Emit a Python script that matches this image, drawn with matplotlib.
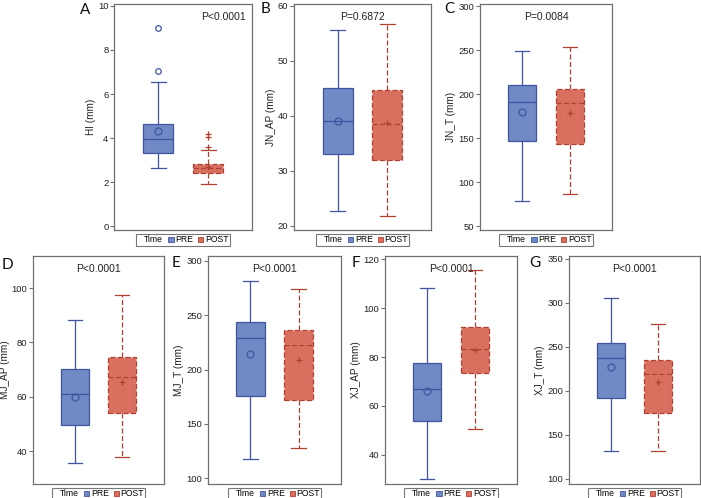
import matplotlib
matplotlib.use('Agg')
import matplotlib.pyplot as plt
from matplotlib.patches import Patch
from matplotlib.lines import Line2D

plt.rcParams['font.family'] = ['Liberation Sans', 'DejaVu Sans']

# ---- data ----
panel_letters = ['A', 'B', 'C', 'D', 'E', 'F', 'G']
y_labels = ['HI (mm)', 'JN_AP (mm)', 'JN_T (mm)', 'MJ_AP (mm)',
            'MJ_T (mm)', 'XJ_AP (mm)', 'XJ_T (mm)']
p_texts = ['P<0.0001', 'P=0.6872', 'P=0.0084', 'P<0.0001',
           'P<0.0001', 'P<0.0001', 'P<0.0001']
groups = ['PRE', 'POST']

# whisker low, Q1, median, Q3, whisker high
pre_box = [[2.62, 3.33, 3.94, 4.65, 6.55],
           [22.8, 33.0, 39.0, 45.05, 55.7],
           [78.0, 147.0, 190.5, 209.9, 249.0],
           [35.5, 49.5, 61.0, 70.3, 88.3],
           [117.5, 176.0, 229.4, 243.9, 281.5],
           [30.2, 53.9, 66.8, 77.5, 108.1],
           [132.0, 192.0, 237.0, 254.0, 305.5]]
pre_mean = [4.33, 39.1, 180.0, 60.0, 214.4, 66.1, 227.5]
pre_outliers = [[7.03, 8.98], [], [], [], [], [], []]

post_box = [[1.89, 2.39, 2.65, 2.83, 3.44],
            [21.8, 32.0, 38.6, 44.8, 56.8],
            [86.6, 143.5, 190.1, 205.3, 253.8],
            [38.0, 54.0, 67.3, 74.5, 97.3],
            [127.3, 172.0, 222.4, 236.2, 274.5],
            [50.5, 73.5, 83.4, 92.2, 115.4],
            [131.5, 175.5, 219.0, 235.0, 276.0]]
post_mean = [2.67, 38.8, 178.0, 65.3, 209.2, 83.0, 210.0]
post_outliers = [[3.59, 4.03, 4.18], [], [], [], [], [], []]

y_ticks = [[0, 2, 4, 6, 8, 10],
           [20, 30, 40, 50, 60],
           [50, 100, 150, 200, 250, 300],
           [40, 60, 80, 100],
           [100, 150, 200, 250, 300],
           [40, 60, 80, 100, 120],
           [100, 150, 200, 250, 300, 350]]
y_limits = [(-0.18, 10.09), (19.27, 60.36), (45.5, 302.3), (27.9, 111.8),
            (94.5, 304.6), (28.1, 121.3), (94.3, 353.4)]

# ---- layout in pixels: left, top, right, bottom ----
W, H = 701, 498
axes_px = [(114, 4, 252, 230), (294, 4, 431, 230), (480, 4, 612, 230),
           (33, 256, 164, 484), (208, 256, 341, 484), (385, 256, 517, 484),
           (569, 256, 700, 484)]
letter_px = [(80, 10), (261, 9), (444, 9), (2, 265), (172, 263),
             (352, 263), (529, 263)]

pre_fill, pre_edge = '#7189c4', '#3f55a0'
post_fill, post_edge = '#d9705f', '#b0402f'
frame_col = '#707070'


def px_rect(l, t, r, b):
    return [l / W, 1 - b / H, (r - l) / W, (b - t) / H]


def draw_box(ax, pos, box, mean, out, fill, edge, dashed, mean_marker, flier_marker):
    ls = (0, (4, 2)) if dashed else '-'
    stats = [dict(whislo=box[0], q1=box[1], med=box[2], q3=box[3],
                  whishi=box[4], mean=mean, fliers=out)]
    ax.bxp(stats, positions=[pos], widths=0.6, capwidths=0.3,
           patch_artist=True, showmeans=True,
           boxprops=dict(facecolor=fill, edgecolor=edge, linewidth=0.9, linestyle=ls),
           whiskerprops=dict(color=edge, linewidth=0.9, linestyle=ls),
           capprops=dict(color=edge, linewidth=0.9),
           medianprops=dict(color=edge, linewidth=0.9, linestyle=ls),
           meanprops=dict(marker=mean_marker, markerfacecolor='none',
                          markeredgecolor=edge, markersize=5, markeredgewidth=0.9),
           flierprops=dict(marker=flier_marker, markerfacecolor='none',
                           markeredgecolor=edge, markersize=4, markeredgewidth=0.9))


fig = plt.figure(figsize=(W / 100, H / 100), dpi=100)

for i in range(len(panel_letters)):
    l, t, r, b = axes_px[i]
    ax = fig.add_axes(px_rect(l, t, r, b))
    draw_box(ax, 1, pre_box[i], pre_mean[i], pre_outliers[i],
             pre_fill, pre_edge, False, 'o', 'o')
    draw_box(ax, 2, post_box[i], post_mean[i], post_outliers[i],
             post_fill, post_edge, True, '+', '+')

    ax.set_xlim(0.12, 2.88)
    ax.set_ylim(*y_limits[i])
    ax.set_yticks(y_ticks[i])
    ax.set_xticks([])
    ax.tick_params(axis='y', length=3, width=0.8, color=frame_col,
                   labelsize=6.8, labelcolor='#222222', pad=1)
    for sp in ax.spines.values():
        sp.set_color(frame_col)
        sp.set_linewidth(0.9)
    ax.set_ylabel(y_labels[i], fontsize=7.2, color='#222222', labelpad=1.5)

    if i == 0:
        ax.annotate(p_texts[i], xy=(1, 1), xycoords='axes fraction',
                    xytext=(-6, -13), textcoords='offset pixels',
                    ha='right', va='center', fontsize=7.5, color='#222222')
    else:
        ax.annotate(p_texts[i], xy=(0.5, 1), xycoords='axes fraction',
                    xytext=(0, -13), textcoords='offset pixels',
                    ha='center', va='center', fontsize=7.5, color='#222222')

    handles = [Line2D([], [], linestyle='none'),
               Patch(facecolor=pre_fill, edgecolor=pre_edge, linewidth=0.6),
               Patch(facecolor=post_fill, edgecolor=post_edge, linewidth=0.6)]
    leg = ax.legend(handles, ['Time'] + groups, ncol=3, loc='upper center',
                    bbox_to_anchor=(0.5, -4 / (b - t)), fontsize=6.2,
                    frameon=True, fancybox=False, borderpad=0.15,
                    handlelength=0.6, handleheight=0.6, handletextpad=0.2,
                    columnspacing=0.6, borderaxespad=0)
    leg.get_frame().set_edgecolor('#555555')
    leg.get_frame().set_linewidth(0.8)

    lx, ly = letter_px[i]
    fig.text(lx / W, 1 - ly / H, panel_letters[i], fontsize=11,
             family=['Lato', 'DejaVu Sans'], ha='left', va='center', color='#111111')

fig.savefig('out.png', dpi=100)
